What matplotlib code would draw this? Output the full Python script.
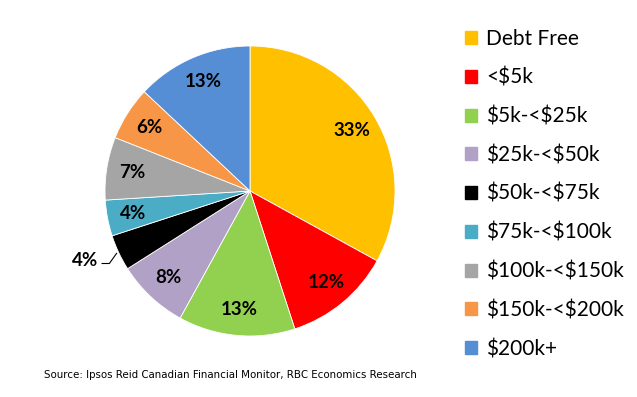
import matplotlib.pyplot as plt
import numpy as np

plt.rcParams["text.parse_math"] = False

categories = ["Debt Free", "<$5k", "$5k-<$25k", "$25k-<$50k", "$50k-<$75k",
              "$75k-<$100k", "$100k-<$150k", "$150k-<$200k", "$200k+"]
shares = [33, 12, 13, 8, 4, 4, 7, 6, 13]
colors = ["#FFC000", "#FF0000", "#92D050", "#B2A1C7", "#000000",
          "#4BACC6", "#A5A5A5", "#F79646", "#558ED5"]

fig = plt.figure(figsize=(6.37, 3.97), dpi=100)
cx, cy, r = 250 / 637, 1 - 191 / 397, 145
ax = fig.add_axes([cx - r / 637, cy - r / 397, 2 * r / 637, 2 * r / 397])

wedges, _ = ax.pie(shares, colors=colors, startangle=90, counterclock=False,
                   radius=1, wedgeprops=dict(edgecolor="white", linewidth=0.6))
ax.set_xlim(-1, 1)
ax.set_ylim(-1, 1)
ax.set_aspect("equal")

for i, (w, v) in enumerate(zip(wedges, shares)):
    mid = np.deg2rad((w.theta1 + w.theta2) / 2)
    if i == 4:
        # small black slice: label outside with leader line
        ax.plot([-1.02, -0.97, -0.92], [-0.50, -0.50, -0.43], color="black", lw=0.8,
                clip_on=False)
        ax.text(-1.05, -0.48, f"{v}%", ha="right", va="center", fontsize=13.5,
                fontweight="bold", family="Lato", clip_on=False)
        continue
    d = 0.82
    ax.text(d * np.cos(mid), d * np.sin(mid), f"{v}%", ha="center", va="center",
            fontsize=13.5, fontweight="bold", family="Lato")

handles = [plt.Rectangle((0, 0), 1, 1, color=c) for c in colors]
leg = fig.legend(handles, categories, loc="upper left",
                 bbox_to_anchor=(465 / 637, 1 - 29 / 397), frameon=False,
                 prop=dict(family="Lato", size=15), handlelength=0.58,
                 handleheight=0.58, handletextpad=0.45, labelspacing=0.9,
                 borderaxespad=0, borderpad=0)

fig.text(44 / 637, 1 - 375 / 397,
         "Source: Ipsos Reid Canadian Financial Monitor, RBC Economics Research",
         fontsize=7.4, family="DejaVu Sans", va="center", ha="left")

fig.savefig("out.png", dpi=100)
